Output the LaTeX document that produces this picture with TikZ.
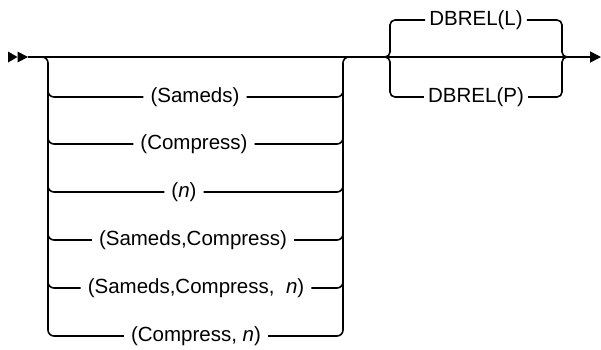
\documentclass[tikz,border=0pt]{standalone}
\usepackage{fontspec}
\setmainfont{Liberation Sans}
\usetikzlibrary{arrows.meta,positioning,calc}

\begin{document}
\begin{tikzpicture}[x=1pt,y=-1pt,
  rail/.style={line width=1.6pt,rounded corners=6pt},
  choice/.style={font=\fontsize{20.5}{23}\selectfont,inner xsep=7pt,inner ysep=1pt,anchor=center}]
\useasboundingbox (0,0) rectangle (601,349);
% start marks
\fill (8,51.5) -- (17.5,57) -- (8,62.5) -- cycle;
\fill (17.5,51.5) -- (28,57) -- (17.5,62.5) -- cycle;
\coordinate (start) at (28,57);
\coordinate (finish) at (601,57);
% first group: options
\node[choice] (sameds) at (195,97){(Sameds)};
\node[choice] (compress) at (194,144){(Compress)};
\node[choice] (nval) at (184,192){(\textit{n})};
\node[choice] (samcomp) at (193,240){(Sameds,Compress)};
\node[choice] (samcompn) at (196,288){(Sameds,Compress,\ \ \textit{n})};
\node[choice] (compn) at (196,336){(Compress, \textit{n})};
% second group
\node[choice,inner xsep=4pt] (dbrell) at (476,20){DBREL(L)};
\node[choice,inner xsep=4pt] (dbrelp) at (476,97){DBREL(P)};
% main line
\draw[line width=1.5pt,-{Triangle[length=11pt,width=11pt]}] (start) -- (finish);
% left and right rails of first group
\draw[rail] (38,57) -| (48,336) -- (compn.west);
\draw[rail] (compn.east) -| (343,57) -- (352,57);
\foreach \opt in {sameds,compress,nval,samcomp,samcompn}{
  \draw[rail] ($(\opt.west)+(0,-10)$) coordinate (a) (48,0 |- a) |- (\opt.west);
  \draw[rail] (\opt.east) -| ($(343,0)!(\opt.east)!(343,1)+(0,-10)$);
}
% DBREL brace
\draw[rail,rounded corners=5pt] (384,57) -| (390,20) -- (dbrell.west);
\draw[rail,rounded corners=5pt] (384,57) -| (390,97) -- (dbrelp.west);
\draw[rail,rounded corners=5pt] (dbrell.east) -| (562,57) -- (568,57);
\draw[rail,rounded corners=5pt] (dbrelp.east) -| (562,57) -- (568,57);
\end{tikzpicture}
\end{document}
